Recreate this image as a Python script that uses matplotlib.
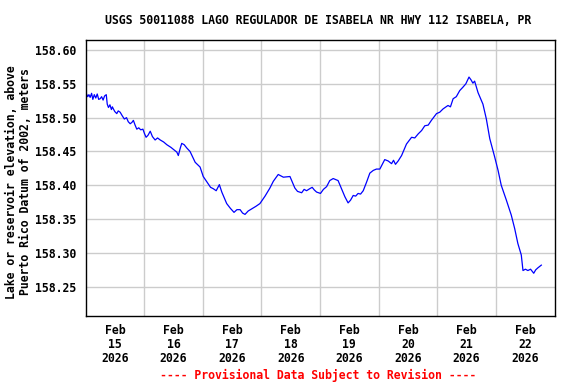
import matplotlib
matplotlib.use("Agg")
import matplotlib.pyplot as plt
import numpy as np

# hours since 2026-02-15 00:00 and gage height (m)
HOURS = [0.0, 0.3, 0.9, 1.4, 1.9, 2.5, 3.0, 3.6, 4.2, 4.8, 5.4, 6.0, 6.6, 7.2,
         7.8, 8.5, 8.9, 9.4, 10.0, 10.6, 11.0, 11.4, 12.0, 12.8, 13.4, 14.2,
         15.0, 15.9, 16.8, 17.5, 18.3, 19.0, 19.6, 20.3, 21.0, 21.8, 22.6,
         23.5, 24.2, 24.8, 25.6, 26.5, 27.4, 28.5, 29.5, 30.6, 32.0, 33.3,
         35.0, 36.7, 37.4, 38.0, 38.8, 39.4, 40.4, 41.5, 42.8, 44.9, 46.9,
         48.2, 50.3, 51.2, 52.3, 53.5, 54.8, 55.8, 57.8, 59.3, 60.8, 62.0,
         63.3, 64.3, 65.3, 66.6, 68.0, 69.8, 71.4, 73.5, 75.5, 76.9, 78.9,
         80.0, 81.0, 83.7, 85.7, 86.8, 88.5, 89.5, 90.5, 91.8, 92.8, 93.7,
         94.6, 96.2, 97.4, 98.7, 100.0, 101.4, 103.4, 104.8, 106.2, 107.5,
         108.5, 109.6, 110.6, 111.6, 112.6, 113.7, 115.1, 116.4, 117.8,
         119.1, 120.5, 122.5, 123.9, 125.3, 126.1, 126.9, 128.0, 129.4,
         131.4, 133.5, 134.8, 136.2, 137.6, 138.9, 140.3, 141.6, 143.7,
         145.0, 146.4, 148.4, 149.4, 150.5, 151.8, 153.2, 154.5, 155.7, 157.0,
         157.8, 158.6, 159.3, 160.7, 162.7, 164.1, 165.5, 167.5, 168.9, 170.2,
         172.3, 174.3, 175.7, 177.0, 178.4, 179.1, 180.1, 181.1, 182.2, 183.5,
         184.3, 185.2, 186.6]
LEVEL = [158.533, 158.536, 158.531, 158.534, 158.530, 158.536, 158.527,
         158.534, 158.529, 158.535, 158.527, 158.528, 158.531, 158.526,
         158.532, 158.534, 158.520, 158.515, 158.519, 158.512, 158.516,
         158.513, 158.509, 158.506, 158.510, 158.508, 158.503, 158.498,
         158.500, 158.494, 158.491, 158.493, 158.496, 158.489, 158.483,
         158.485, 158.482, 158.483, 158.476, 158.471, 158.474, 158.480,
         158.472, 158.467, 158.470, 158.467, 158.464, 158.460, 158.456,
         158.451, 158.449, 158.444, 158.455, 158.462, 158.460, 158.455,
         158.450, 158.434, 158.427, 158.413, 158.402, 158.397, 158.395,
         158.392, 158.401, 158.390, 158.373, 158.366, 158.360, 158.364,
         158.364, 158.359, 158.357, 158.362, 158.365, 158.369, 158.373,
         158.384, 158.396, 158.406, 158.416, 158.414, 158.412, 158.413,
         158.396, 158.391, 158.389, 158.394, 158.392, 158.395, 158.397,
         158.393, 158.390, 158.388, 158.394, 158.398, 158.407, 158.410,
         158.407, 158.395, 158.383, 158.374, 158.378, 158.385, 158.384,
         158.388, 158.387, 158.392, 158.405, 158.418, 158.422, 158.424,
         158.424, 158.438, 158.436, 158.432, 158.437, 158.431, 158.436,
         158.444, 158.461, 158.471, 158.470, 158.476, 158.481, 158.488,
         158.489, 158.496, 158.506, 158.508, 158.513, 158.518, 158.516,
         158.528, 158.531, 158.540, 158.545, 158.550, 158.560, 158.556,
         158.551, 158.554, 158.537, 158.520, 158.498, 158.469, 158.442,
         158.422, 158.400, 158.378, 158.356, 158.336, 158.314, 158.297,
         158.274, 158.276, 158.274, 158.276, 158.270, 158.275, 158.278,
         158.282]

YTICKS = [158.25, 158.30, 158.35, 158.40, 158.45, 158.50, 158.55, 158.60]
DAYS = ["15", "16", "17", "18", "19", "20", "21", "22"]

TITLE = "USGS 50011088 LAGO REGULADOR DE ISABELA NR HWY 112 ISABELA, PR"
YLABEL = "Lake or reservoir elevation, above\nPuerto Rico Datum of 2002, meters"
FOOTER = "---- Provisional Data Subject to Revision ----"

MONO = "DejaVu Sans Mono"

fig = plt.figure(figsize=(5.76, 3.84), dpi=100)
ax = fig.add_axes([85.5 / 576, 1 - 316 / 384, 469 / 576, 276 / 384])

ax.plot(HOURS, LEVEL, color="#0000ff", lw=0.9)

ax.set_xlim(0, 192)
ax.set_ylim(158.2068, 158.6148)

ax.set_yticks(YTICKS)
ax.set_yticklabels([f"{v:.2f}" for v in YTICKS], family=MONO,
                   fontweight="bold", fontsize=8.3)
ax.set_xticks([24 * i for i in range(1, 8)])
ax.set_xticklabels([])
ax.grid(True, color="#cccccc", lw=1.0)
ax.tick_params(length=0, pad=7)
for sp in ax.spines.values():
    sp.set_linewidth(1.0)
    sp.set_color("black")

for i, d in enumerate(DAYS):
    ax.text(24 * i + 12, -0.03, f"Feb\n{d}\n2026", transform=ax.get_xaxis_transform(),
            ha="center", va="top", family=MONO, fontweight="bold",
            fontsize=8.3, linespacing=1.1)

fig.text(318 / 576, 1 - 20 / 384, TITLE, ha="center", va="center",
         family=MONO, fontweight="bold", fontsize=8.3)
fig.text(19 / 576, 1 - 182 / 384, YLABEL, ha="center", va="center",
         rotation=90, family=MONO, fontweight="bold", fontsize=8.3,
         linespacing=1.1)
fig.text(318 / 576, 1 - 375 / 384, FOOTER, ha="center", va="center",
         family=MONO, fontweight="bold", fontsize=8.3, color="red")

fig.savefig("out.png", dpi=100)
